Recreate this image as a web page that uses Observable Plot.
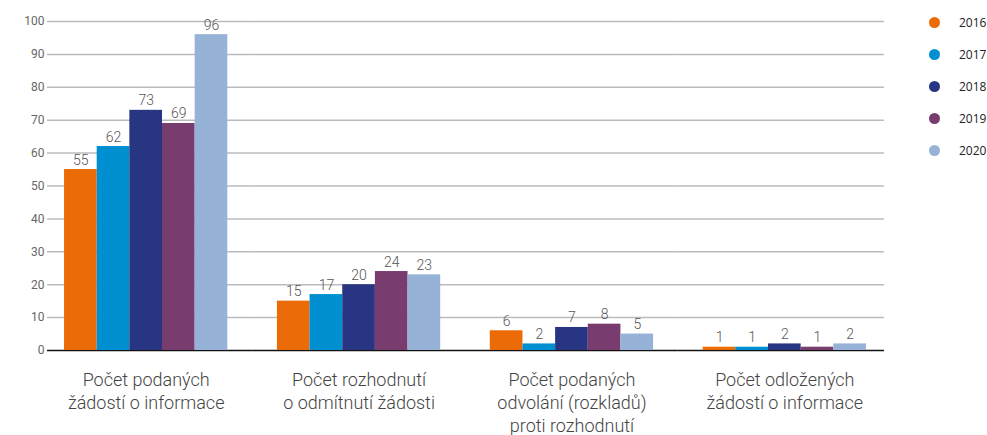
<!DOCTYPE html>
<html><head><meta charset="utf-8">
<script src="https://cdn.jsdelivr.net/npm/d3@7"></script>
<script src="https://cdn.jsdelivr.net/npm/@observablehq/plot@0.6"></script>
<style>
body{margin:0;background:#fff;}
#wrap{position:relative;width:987px;height:435px;}
#legend{position:absolute;left:929px;top:6px;font-family:"Open Sans",sans-serif;font-size:12px;color:#222;}
.li{display:flex;align-items:center;height:32.2px;}
.dot{width:11px;height:11px;border-radius:50%;margin-right:19px;}
</style>
</head><body>
<div id="wrap"><div id="chart"></div><div id="legend"></div></div>
<script>
const categories = [
  "Počet podaných\nžádostí o informace",
  "Počet rozhodnutí\no odmítnutí žádosti",
  "Počet podaných\nodvolání (rozkladů)\nproti rozhodnutí",
  "Počet odložených\nžádostí o informace"
];
const years = ["2016","2017","2018","2019","2020"];
const values2016 = [55, 15, 6, 1];
const values2017 = [62, 17, 2, 1];
const values2018 = [73, 20, 7, 2];
const values2019 = [69, 24, 8, 1];
const values2020 = [96, 23, 5, 2];
const yTicks = [0,10,20,30,40,50,60,70,80,90,100];
const colors = ["#eb6c07","#0090d1","#283583","#783c6f","#96b3d7"];

const series = [values2016, values2017, values2018, values2019, values2020];
const data = [];
categories.forEach((c, i) => years.forEach((y, j) => data.push({category: c, year: y, value: series[j][i]})));

// grid rows per facet (extended across the gaps between facets with negative insets)
const gridRows = [];
categories.forEach(c => yTicks.forEach(t => gridRows.push({category: c, tick: t})));
const n = categories.length;
function lines(filterFn, left, right) {
  const rows = gridRows.filter(filterFn);
  return [
    Plot.ruleY(rows.filter(d => d.tick > 0), {fx: "category", y: "tick", stroke: "#bbbbbb", strokeWidth: 1.5, insetLeft: left, insetRight: right}),
    Plot.ruleY(rows.filter(d => d.tick === 0), {fx: "category", y: "tick", stroke: "#111", strokeWidth: 1.5, insetLeft: left, insetRight: right})
  ];
}

const font = "Roboto, sans-serif";
const chart = Plot.plot({
  width: 987, height: 435,
  marginLeft: 47, marginRight: 104, marginTop: 21, marginBottom: 85,
  style: {fontFamily: font, background: "transparent"},
  fx: {domain: categories, paddingInner: 0.233, paddingOuter: 0.08, round: false, label: null},
  x: {domain: years, padding: 0, round: false, axis: null},
  y: {domain: [0, 100], label: null},
  color: {domain: years, range: colors},
  marks: [
    ...lines(d => d.category === categories[0], -17, -24.8),
    ...lines(d => d.category !== categories[0] && d.category !== categories[n-1], -24.8, -24.8),
    ...lines(d => d.category === categories[n-1], -24.8, -18),
    Plot.barY(data, {fx: "category", x: "year", y: "value", fill: "year"}),
    Plot.text(data, {fx: "category", x: "year", y: "value", text: d => String(d.value), lineAnchor: "bottom", dy: -5, fill: "#555", fontSize: 14, fontWeight: 300}),
    Plot.axisY({ticks: yTicks, tickSize: 0, tickPadding: 20, fontSize: 12, fill: "#666", label: null}),
    Plot.axisFx({anchor: "bottom", tickSize: 0, tickPadding: 19, fontSize: 18, fill: "#444", fontWeight: 300, lineHeight: 1.28, label: null})
  ]
});
document.getElementById("chart").appendChild(chart);
const leg = document.getElementById("legend");
years.forEach((y, i) => {
  const row = document.createElement("div"); row.className = "li";
  row.innerHTML = `<span class="dot" style="background:${colors[i]}"></span><span>${y}</span>`;
  leg.appendChild(row);
});
</script>
</body></html>
